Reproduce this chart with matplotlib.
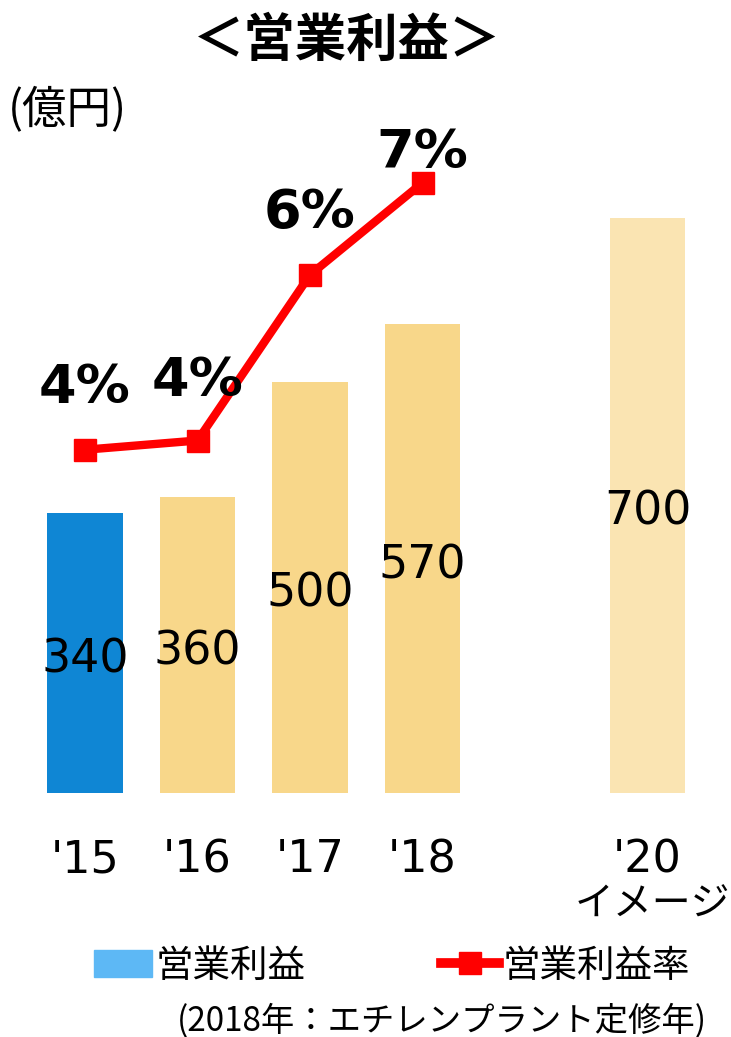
import numpy as np
import matplotlib.pyplot as plt
from matplotlib.patches import Patch
from matplotlib.lines import Line2D

plt.rcParams['font.family'] = ['DejaVu Sans', 'Noto Sans CJK JP']

years = ["'15", "'16", "'17", "'18", "'20"]
xpos = [0, 1, 2, 3, 5]
profit = [340, 360, 500, 570, 700]          # 億円
rate = [4.1, 4.2, 6.0, 7.0]                 # %
bar_colors = ['#0F86D4', '#F8D78A', '#F8D78A', '#F8D78A', '#FAE4B2']
rate_dy = [62, 60, 62, 30]                  # label offset above marker, px

W, H = 731, 1037
fig = plt.figure(figsize=(W / 100, H / 100), dpi=100)
ax_l, ax_r = 28.75 / W, 703.75 / W
ax_b, ax_t = (H - 793) / H, (H - 100) / H
ax = fig.add_axes([ax_l, ax_b, ax_r - ax_l, ax_t - ax_b])

ax.bar(xpos, profit, width=0.667, color=bar_colors, zorder=1)
for x, v in zip(xpos, profit):
    ax.annotate(str(v), (x, v / 2), xytext=(0, -5), textcoords='offset points',
                ha='center', va='center', fontsize=33, zorder=3)

ax.set_xlim(-0.5, 5.5)
ax.set_ylim(0, 843)
ax.axis('off')

ax2 = ax.twinx()
ax2.plot(xpos[:4], rate, color='#FF0000', lw=6, marker='s', ms=16, zorder=2)
ax2.set_ylim(0.37, 7.90)
ax2.axis('off')
for x, r, dy in zip(xpos[:4], rate, rate_dy):
    ax2.annotate(f'{round(r)}%', (x, r), xytext=(0, dy * 0.72), textcoords='offset points',
                 ha='center', va='center', fontsize=39, fontweight='bold')

# category labels under the bars
for x, lab in zip(xpos, years):
    ax.annotate(lab, (x, 0), xytext=(0, -67 * 0.72), textcoords='offset points',
                ha='center', va='center', fontsize=32, annotation_clip=False)
ax.annotate('イメージ', (xpos[-1], 0), xytext=(5 * 0.72, -112 * 0.72),
            textcoords='offset points', ha='center', va='center', fontsize=28,
            family='Noto Sans CJK JP', annotation_clip=False)

fig.text(347 / W, 1 - 40 / H, '＜営業利益＞', ha='center', va='center',
         fontsize=37, fontweight='bold', family='Noto Sans CJK JP')
fig.text(8 / W, 1 - 110 / H, '(億円)', ha='left', va='center', fontsize=32,
         family='Noto Sans CJK JP')

handles = [Patch(color='#5DB8F5'),
           Line2D([], [], color='#FF0000', lw=7, marker='s', ms=16)]
fig.legend(handles, ['営業利益', '営業利益率'], ncol=2, loc='center',
           bbox_to_anchor=(392 / W, 1 - 966 / H), frameon=False,
           prop={'family': 'Noto Sans CJK JP', 'size': 27},
           handlelength=1.55, handletextpad=0.1, columnspacing=3.6,
           borderpad=0)

fig.text(442 / W, 1 - 1021 / H, '(2018年：エチレンプラント定修年)', ha='center',
         va='center', fontsize=24, family='Noto Sans CJK JP')

plt.savefig('out.png', dpi=100)
